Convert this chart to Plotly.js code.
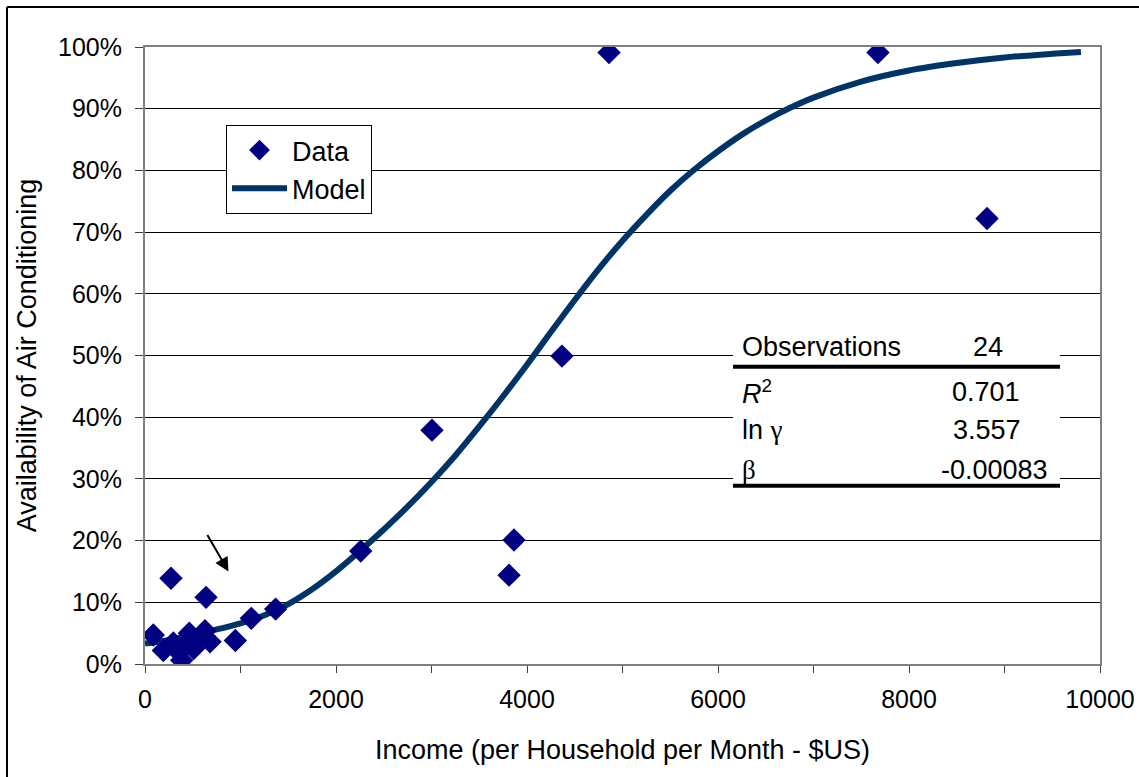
<!DOCTYPE html>
<html>
<head>
<meta charset="utf-8">
<script src="https://cdn.plot.ly/plotly-3.0.1.min.js"></script>
<style>html,body{margin:0;padding:0;background:#fff;}#chart{width:1139px;height:777px;}</style>
</head>
<body>
<div id="chart"></div>
<script>
// Observed data (income per household per month, $US; share with air conditioning)
const dataIncome = [87, 192, 272, 297, 350, 384, 436, 464, 510, 558, 628, 639, 681, 946, 1113, 1368, 2259, 3005, 3812, 3864, 4366, 4859, 7675, 8817];
const dataAC = [0.047, 0.022, 0.139, 0.034, 0.020, 0.006, 0.031, 0.050, 0.025, 0.041, 0.054, 0.108, 0.036, 0.038, 0.074, 0.089, 0.183, 0.379, 0.144, 0.201, 0.499, 0.991, 0.991, 0.722];

// Model curve
const modelIncome = [0, 250, 500, 750, 1000, 1250, 1500, 1750, 2000, 2250, 2500, 2750, 3000, 3250, 3500, 3750, 4000, 4250, 4500, 4750, 5000, 5250, 5500, 5750, 6000, 6250, 6500, 6750, 7000, 7500, 8000, 8500, 9000, 9500, 9800];
const modelAC = [0.033, 0.039, 0.047, 0.056, 0.066, 0.079, 0.097, 0.121, 0.150, 0.183, 0.218, 0.255, 0.295, 0.338, 0.385, 0.434, 0.485, 0.538, 0.590, 0.640, 0.686, 0.728, 0.767, 0.801, 0.831, 0.858, 0.881, 0.901, 0.918, 0.944, 0.962, 0.974, 0.983, 0.989, 0.992];

// Tick labels
const xTicks = [0, 2000, 4000, 6000, 8000, 10000];
const yTicks = [0, 0.1, 0.2, 0.3, 0.4, 0.5, 0.6, 0.7, 0.8, 0.9, 1.0];

// Statistics table
const statLabels = ["Observations", "<i>R</i><sup>2</sup>", "ln <span style=\"font-family:'Liberation Serif',serif\">γ</span>", "<span style=\"font-family:'Liberation Serif',serif\">β</span>"];
const statValues = ["24", "0.701", "3.557", "-0.00083"];

const FONT = "'Liberation Sans', Arial, sans-serif";

const traces = [
  {
    x: modelIncome, y: modelAC, type: 'scatter', mode: 'lines', name: 'Model',
    line: {color: '#003366', width: 6, shape: 'spline', smoothing: 0.8}, legendrank: 2, hoverinfo: 'skip'
  },
  {
    x: dataIncome, y: dataAC, type: 'scatter', mode: 'markers', name: 'Data',
    marker: {symbol: 'diamond', size: 18, color: '#000080', line: {width: 0}}, legendrank: 1
  }
];

// Convert pixel positions inside the 1139x777 page to paper coords
const L = 145, R = 1100, T = 47, B = 664;
const px = v => (v - L) / (R - L);
const py = v => (B - v) / (B - T);

const statY = [346.7, 391.7, 430, 470];
const statX = [988, 986, 987, 994];

const annotations = [];
statLabels.forEach((t, i) => {
  annotations.push({xref: 'paper', yref: 'paper', x: px(740), y: py(statY[i]), xanchor: 'left', yanchor: 'middle',
    text: t, showarrow: false, font: {family: FONT, size: 27, color: '#000'}});
  annotations.push({xref: 'paper', yref: 'paper', x: px(statX[i]), y: py(statY[i]), xanchor: 'center', yanchor: 'middle',
    text: statValues[i], showarrow: false, font: {family: FONT, size: 27, color: '#000'}});
});
// Arrow
annotations.push({xref: 'paper', yref: 'paper', x: px(228.5), y: py(571.5), text: '', showarrow: true,
  ax: -22, ay: -38, arrowhead: 2, arrowsize: 1.4, arrowwidth: 2, arrowcolor: '#000', standoff: 0});

const shapes = [
  // table background and rules
  {type: 'rect', xref: 'paper', yref: 'paper', x0: px(733), x1: px(1060), y0: py(488), y1: py(330),
    fillcolor: '#fff', line: {width: 0}, layer: 'above'},
  {type: 'line', xref: 'paper', yref: 'paper', x0: px(733), x1: px(1060), y0: py(366.7), y1: py(366.7),
    line: {color: '#000', width: 4}, layer: 'above'},
  {type: 'line', xref: 'paper', yref: 'paper', x0: px(733), x1: px(1060), y0: py(485.7), y1: py(485.7),
    line: {color: '#000', width: 4}, layer: 'above'},
  // outer frame (partly cropped)
  {type: 'line', xref: 'paper', yref: 'paper', x0: px(7), x1: px(1145), y0: py(7), y1: py(7),
    line: {color: '#000', width: 2}, layer: 'above'},
  {type: 'line', xref: 'paper', yref: 'paper', x0: px(7), x1: px(7), y0: py(7), y1: py(790),
    line: {color: '#000', width: 2}, layer: 'above'}
];

const layout = {
  width: 1139, height: 777,
  margin: {l: L, r: 1139 - R, t: T, b: 777 - B, pad: 0},
  paper_bgcolor: '#fff', plot_bgcolor: '#fff',
  font: {family: FONT, size: 24, color: '#000'},
  showlegend: true,
  legend: {x: px(226), y: py(125), xanchor: 'left', yanchor: 'top', bgcolor: '#fff',
    bordercolor: '#000', borderwidth: 1, itemwidth: 55,
    font: {family: FONT, size: 27, color: '#000'}},
  xaxis: {
    range: [0, 10000], tickmode: 'array', tickvals: xTicks, ticktext: xTicks.map(String),
    ticks: 'outside', ticklen: 7, tickcolor: '#404040', tickwidth: 1, ticklabelstandoff: 5,
    minor: {dtick: 1000, ticks: 'outside', ticklen: 7, tickcolor: '#404040', showgrid: false},
    showgrid: false, zeroline: false, showline: true, linecolor: '#808080', linewidth: 2, mirror: true,
    tickfont: {family: FONT, size: 25, color: '#000'},
    title: {text: 'Income (per Household per Month - $US)', font: {family: FONT, size: 27, color: '#000'}, standoff: 28},
    automargin: false, fixedrange: true
  },
  yaxis: {
    range: [0, 1], tickmode: 'array', tickvals: yTicks, ticktext: yTicks.map(v => Math.round(v * 100) + '%'),
    ticks: 'outside', ticklen: 8, tickcolor: '#404040', tickwidth: 1, ticklabelstandoff: 8,
    showgrid: true, gridcolor: '#000', gridwidth: 1, zeroline: false,
    showline: true, linecolor: '#808080', linewidth: 2, mirror: true,
    tickfont: {family: FONT, size: 25, color: '#000'},
    title: {text: 'Availability of Air Conditioning', font: {family: FONT, size: 27, color: '#000'}, standoff: 14},
    automargin: false, fixedrange: true
  },
  annotations: annotations,
  shapes: shapes
};

Plotly.newPlot('chart', traces, layout, {displayModeBar: false, staticPlot: true});
</script>
</body>
</html>
